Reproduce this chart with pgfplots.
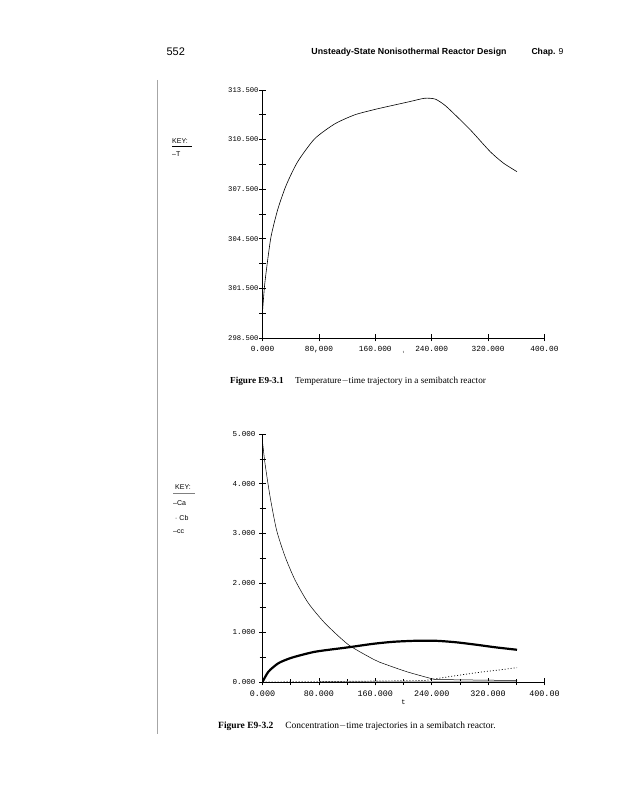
\documentclass[border=0pt]{standalone}
\usepackage{pgfplots}
\pgfplotsset{compat=1.18}
\usepackage{fontspec}
\setmainfont{Liberation Serif}
\newfontfamily\monof{Liberation Mono}
\newfontfamily\sansf{Liberation Sans}
\begin{document}
\begin{tikzpicture}[x=1pt,y=1pt]
\path[use as bounding box] (0,0) rectangle (628,800);
% header
\node[anchor=west,font=\sansf\fontsize{11}{12}\selectfont] at (163,748) {552};
\node[anchor=center,font=\sansf\bfseries\fontsize{8.8}{10}\selectfont] at (409,748) {Unsteady-State Nonisothermal Reactor Design};
\node[anchor=west,font=\sansf\fontsize{8.6}{10}\selectfont] at (528,748) {\textbf{Chap.} 9};
% left rule
\draw[gray!70,line width=0.5pt] (157,720) -- (157,66);
% keys
\node[anchor=west,font=\sansf\fontsize{7}{8}\selectfont,inner sep=0] at (172,659) {KEY:};
\draw[line width=0.4pt] (172,653.5) -- (192,653.5);
\node[anchor=west,font=\sansf\fontsize{7}{8}\selectfont,inner sep=0] at (172,646) {\textendash T};
\node[anchor=west,font=\sansf\fontsize{7}{8}\selectfont,inner sep=0] at (175,313) {KEY:};
\draw[gray,line width=0.4pt] (173,306.5) -- (195,306.5);
\node[anchor=west,font=\sansf\fontsize{7}{8}\selectfont,inner sep=0] at (173,297) {\textendash Ca};
\node[anchor=west,font=\sansf\fontsize{7}{8}\selectfont,inner sep=0] at (175,282) {\textcolor{gray}{-} Cb};
\node[anchor=west,font=\sansf\fontsize{7}{8}\selectfont,inner sep=0] at (173,268) {\textendash cc};
% captions
\node[anchor=west,font=\fontsize{9.2}{10}\selectfont,inner sep=0] at (230,419) {\textbf{Figure E9-3.1}\quad\ Temperature$-$time trajectory in a semibatch reactor};
\node[anchor=west,font=\fontsize{9.5}{10}\selectfont,inner sep=0] at (218,74) {\textbf{Figure E9-3.2}\quad\ Concentration$-$time trajectories in a semibatch reactor.};
% top axis
\begin{axis}[
  at={(262.5pt,462pt)}, anchor=south west,
  scale only axis, width=282pt, height=248pt,
  xmin=0, xmax=400, ymin=298.5, ymax=313.5,
  axis x line=bottom, axis y line=left, axis line style={-, line width=0.6pt},
  xtick={0,80,160,240,320,400},
  xticklabels={0.000,{80,000},160.000,240.000,320.000,400.00},
  ytick={298.5,301.5,304.5,307.5,310.5,313.5},
  yticklabels={298.500,301.500,304.500,307.500,310.500,313.500},
  minor ytick={300,303,306,309,312},
  tick align=center, major tick length=7pt, minor tick length=7pt,
  tick style={black, line width=0.6pt},
  x tick label style={font=\monof\fontsize{7.8}{8}\selectfont, yshift=-1pt},
  y tick label style={font=\monof\fontsize{7.2}{8}\selectfont, xshift=3pt},
  xlabel={\fontsize{4}{4}\selectfont t}, xlabel style={yshift=8pt},
]
\addplot[black, line width=0.6pt, smooth, tension=0.4] coordinates {
(0,300.1) (3,301.7) (7.6,303.3) (12.4,304.7) (21.8,306.3) (33.7,307.75)
(50,309.17) (74,310.55) (102.5,311.45) (131,312.0) (162,312.35) (209,312.8)
(230,313.0) (245,312.95) (258,312.6) (271,312.09) (295,311.08) (323,309.77)
(342,309.07) (361,308.56)};
\end{axis}
% bottom axis
\begin{axis}[
  at={(262.5pt,118pt)}, anchor=south west,
  scale only axis, width=282pt, height=248pt,
  xmin=0, xmax=400, ymin=0, ymax=5,
  axis x line=bottom, axis y line=left, axis line style={-, line width=0.6pt},
  xtick={0,80,160,240,320,400},
  xticklabels={0.000,80.000,160.000,240.000,320.000,400.00},
  minor xtick={40,120,200,280,360},
  ytick={0,1,2,3,4,5},
  yticklabels={0.000,1.000,2.000,3.000,4.000,5.000},
  minor ytick={0.5,1.5,2.5,3.5,4.5},
  tick align=center, major tick length=7pt, minor tick length=6pt,
  tick style={black, line width=0.6pt},
  x tick label style={font=\monof\fontsize{8.4}{9}\selectfont, yshift=-2pt},
  y tick label style={font=\monof\fontsize{7.6}{8}\selectfont, xshift=0pt},
  xlabel={\monof\fontsize{7}{8}\selectfont t}, xlabel style={yshift=4pt},
]
\addplot[gray!60, line width=1.5pt] coordinates {(80,0.012) (360,0.012)};
\addplot[black, line width=0.5pt, smooth, tension=0.4] coordinates {
(0,4.85) (3.5,4.41) (10.7,3.74) (20,3.06) (32,2.53) (46,2.06) (65,1.59)
(89,1.18) (122,0.75) (157,0.46) (166,0.40) (204,0.21) (242,0.06) (250,0.05)
(300,0.04) (361,0.03)};
\addplot[black, line width=0.7pt, dash pattern=on 1pt off 2pt] coordinates {
(0,0) (100,0.01) (230,0.03) (250,0.075) (280,0.14) (310,0.2) (340,0.25) (361,0.29)};
\addplot[black, line width=2.2pt, smooth, tension=0.4] coordinates {
(0,0) (8.5,0.21) (22.7,0.38) (41.5,0.49) (74.6,0.61) (122,0.70) (157,0.77)
(185,0.81) (215,0.83) (247,0.83) (275,0.80) (304,0.75) (330,0.70) (361,0.65)};
\end{axis}
\end{tikzpicture}
\end{document}
